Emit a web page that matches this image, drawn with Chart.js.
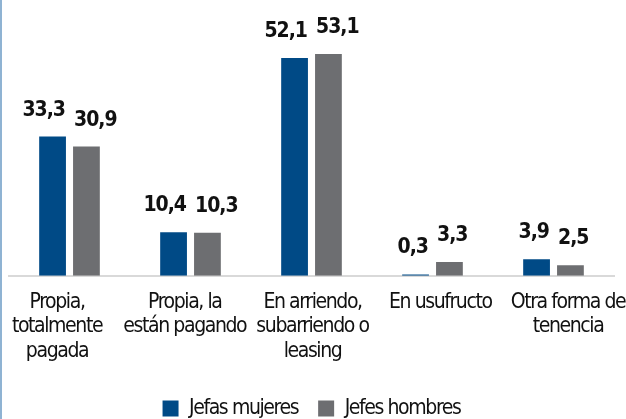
<!DOCTYPE html>
<html>
<head>
<meta charset="utf-8">
<script src="https://cdn.jsdelivr.net/npm/chart.js@4/dist/chart.umd.min.js"></script>
<style>
  html, body { margin: 0; padding: 0; background: #fff; }
  #wrap { position: relative; width: 626px; height: 419px; box-sizing: border-box; border-left: 2px solid #8fb3d3; }
</style>
</head>
<body>
<div id="wrap"><canvas id="chart"></canvas></div>
<script>
const categories = [
  ['Propia,', 'totalmente', 'pagada'],
  ['Propia, la', 'están pagando'],
  ['En arriendo,', 'subarriendo o', 'leasing'],
  ['En usufructo'],
  ['Otra forma de', 'tenencia']
];
const jefasMujeres = [33.3, 10.4, 52.1, 0.3, 3.9];
const jefesHombres = [30.9, 10.3, 53.1, 3.3, 2.5];
const seriesNames = ['Jefas mujeres', 'Jefes hombres'];

const FONT = "'DejaVu Sans Condensed', 'DejaVu Sans', sans-serif";
const SPACING = '-1.4px';

// tighten letters so the text looks like the narrow original font
const narrowText = {
    id: 'narrowText',
    beforeUpdate(chart) { chart.ctx.letterSpacing = SPACING; },
    beforeDraw(chart) { chart.ctx.letterSpacing = SPACING; }
};

// value labels above each bar, comma decimal, pushed apart when they collide
const valueLabels = {
    id: 'valueLabels',
    afterDatasetsDraw(chart) {
        const ctx = chart.ctx;
        ctx.save();
        ctx.letterSpacing = '-1px';
        ctx.font = 'bold 21px ' + FONT;
        ctx.fillStyle = '#111';
        ctx.textAlign = 'center';
        ctx.textBaseline = 'alphabetic';
        const m0 = chart.getDatasetMeta(0).data;
        const m1 = chart.getDatasetMeta(1).data;
        const ds = chart.data.datasets;
        m0.forEach((b0, j) => {
            const b1 = m1[j];
            const t0 = ds[0].data[j].toFixed(1).replace('.', ',');
            const t1 = ds[1].data[j].toFixed(1).replace('.', ',');
            const w0 = ctx.measureText(t0).width;
            const w1 = ctx.measureText(t1).width;
            let x0 = b0.x, x1 = b1.x;
            const need = (w0 + w1) / 2 + 9;
            if (x1 - x0 < need) {
                const d = (need - (x1 - x0)) / 2;
                x0 -= d; x1 += d;
            }
            ctx.fillText(t0, x0, b0.y - 21);
            ctx.fillText(t1, x1, b1.y - 21);
        });
        ctx.restore();
    }
};

new Chart(document.getElementById('chart'), {
    type: 'bar',
    data: {
        labels: categories,
        datasets: [
            { label: seriesNames[0], data: jefasMujeres, backgroundColor: '#004a86' },
            { label: seriesNames[1], data: jefesHombres, backgroundColor: '#6d6e71' }
        ]
    },
    options: {
        responsive: true,
        maintainAspectRatio: false,
        animation: false,
        categoryPercentage: 0.56,
        barPercentage: 0.79,
        layout: { padding: { left: 7, right: 12, top: 0, bottom: -10 } },
        plugins: {
            tooltip: { enabled: false },
            legend: {
                position: 'bottom',
                labels: {
                    boxWidth: 16, boxHeight: 16,
                    color: '#111',
                    font: { family: FONT, size: 21 },
                    padding: 20
                }
            }
        },
        scales: {
            x: {
                grid: { display: false, drawTicks: false },
                border: { color: '#d9d9d9', width: 2 },
                ticks: { display: false }
            },
            // category names sit on a slightly wider spread than the bars
            xLabels: {
                type: 'linear',
                position: 'bottom',
                offset: false,
                bounds: 'data',
                min: -0.376,
                max: 4.36,
                afterBuildTicks: (axis) => {
                    axis.ticks = categories.map((c, i) => ({ value: i }));
                },
                // let the outer labels overhang instead of shrinking the plot
                afterFit: (axis) => {
                    axis.paddingLeft = 0;
                    axis.paddingRight = 0;
                },
                grid: { display: false, drawTicks: false, offset: false },
                border: { display: false },
                ticks: {
                    autoSkip: false,
                    maxRotation: 0,
                    color: '#111',
                    font: { family: FONT, size: 21, lineHeight: 1.18 },
                    padding: 14,
                    callback: (v) => categories[v] || ''
                }
            },
            y: {
                display: false,
                min: 0,
                max: 66
            }
        }
    },
    plugins: [narrowText, valueLabels]
});
</script>
</body>
</html>
